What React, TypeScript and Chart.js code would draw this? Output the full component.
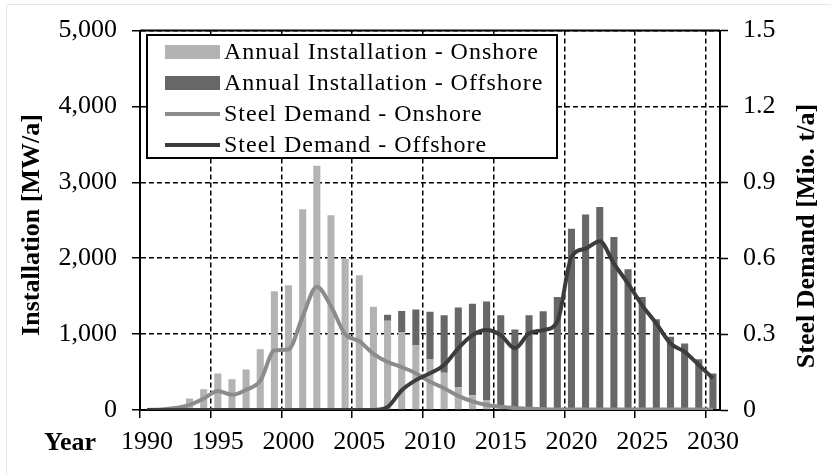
import React, { useEffect, useRef } from 'react';
import { Chart, registerables } from 'chart.js';

Chart.register(...registerables);

const years = [
  '1990', '1991', '1992', '1993', '1994', '1995', '1996', '1997', '1998', '1999',
  '2000', '2001', '2002', '2003', '2004', '2005', '2006', '2007', '2008', '2009',
  '2010', '2011', '2012', '2013', '2014', '2015', '2016', '2017', '2018', '2019',
  '2020', '2021', '2022', '2023', '2024', '2025', '2026', '2027', '2028', '2029', '2030',
];

// Annual installation [MW/a]
const onshoreInstall = [
  0, 10, 40, 150, 275, 480, 405, 535, 800, 1565,
  1645, 2645, 3220, 2565, 1990, 1775, 1360, 1175, 1020, 855,
  665, 490, 300, 195, 125, 45, 20, 10, 10, 10,
  10, 10, 10, 10, 10, 10, 10, 10, 10, 10, 10,
];
const offshoreInstall = [
  0, 0, 0, 0, 0, 0, 0, 0, 0, 0,
  0, 0, 0, 0, 0, 0, 0, 80, 285, 470,
  630, 760, 1050, 1205, 1305, 1205, 1040, 1240, 1290, 1480,
  2380, 2565, 2665, 2270, 1845, 1480, 1185, 955, 865, 660, 470,
];

// Steel demand [Mio. t/a]
const onshoreSteel = [
  0, 0.002, 0.008, 0.02, 0.045, 0.075, 0.06, 0.08, 0.115, 0.235,
  0.24, 0.37, 0.487, 0.41, 0.3, 0.272, 0.222, 0.19, 0.17, 0.145,
  0.112, 0.086, 0.056, 0.034, 0.02, 0.013, 0.008, 0.005, 0.003, 0.002,
  0.002, 0.002, 0.002, 0.002, 0.002, 0.002, 0.002, 0.002, 0.002, 0.002, 0.002,
];
const offshoreSteel = [
  0, 0, 0, 0, 0, 0, 0, 0, 0, 0,
  0, 0, 0, 0, 0, 0, 0, 0.012, 0.078, 0.118,
  0.145, 0.178, 0.244, 0.296, 0.316, 0.296, 0.244, 0.303, 0.316, 0.349,
  0.605, 0.638, 0.667, 0.579, 0.5, 0.414, 0.342, 0.263, 0.23, 0.178, 0.125,
];

const seriesNames = [
  'Annual Installation - Onshore',
  'Annual Installation - Offshore',
  'Steel Demand - Onshore',
  'Steel Demand - Offshore',
];

const COL_ON_BAR = '#b3b3b3';
const COL_OFF_BAR = '#676767';
const COL_ON_LINE = '#8c8c8c';
const COL_OFF_LINE = '#3c3c3c';
const SERIF = '"Liberation Serif", "Times New Roman", serif';

const decorPlugin = {
  id: 'decor',
  beforeDraw(chart: any) {
    const { ctx, width, height } = chart;
    ctx.save();
    ctx.fillStyle = '#fff';
    ctx.fillRect(0, 0, width, height);
    ctx.restore();
  },
  afterDraw(chart: any) {
    const { ctx, chartArea: a } = chart;
    ctx.save();
    ctx.setLineDash([]);
    // faint outer frame
    ctx.strokeStyle = '#e4e4e4';
    ctx.lineWidth = 1;
    ctx.beginPath();
    ctx.moveTo(6.5, 475);
    ctx.lineTo(6.5, 4.5);
    ctx.lineTo(831, 4.5);
    ctx.stroke();
    // plot top border
    ctx.strokeStyle = '#000';
    ctx.lineWidth = 2;
    ctx.beginPath();
    ctx.moveTo(a.left, a.top);
    ctx.lineTo(a.right, a.top);
    ctx.stroke();

    // axis titles
    ctx.fillStyle = '#000';
    ctx.font = `bold 26px ${SERIF}`;
    ctx.textAlign = 'center';
    ctx.textBaseline = 'middle';
    ctx.save();
    ctx.translate(32, 225);
    ctx.rotate(-Math.PI / 2);
    ctx.fillText('Installation [MW/a]', 0, 0);
    ctx.restore();
    ctx.save();
    ctx.translate(807, 236);
    ctx.rotate(-Math.PI / 2);
    ctx.fillText('Steel Demand [Mio. t/a]', 0, 0);
    ctx.restore();
    ctx.fillText('Year', 70, 443);

    // legend
    const lx = 147, ly = 35, lw = 410, lh = 123;
    ctx.fillStyle = '#fff';
    ctx.fillRect(lx, ly, lw, lh);
    ctx.strokeStyle = '#000';
    ctx.lineWidth = 2;
    ctx.strokeRect(lx, ly, lw, lh);
    const rows = [52, 83, 114, 145];
    const ds = chart.data.datasets;
    ctx.font = `24px ${SERIF}`;
    ctx.textAlign = 'left';
    ctx.textBaseline = 'middle';
    try { (ctx as any).letterSpacing = '1px'; } catch (e) { /* ignore */ }
    rows.forEach((cy, i) => {
      const d = ds[i];
      if (i < 2) {
        ctx.fillStyle = d.backgroundColor;
        ctx.fillRect(165, cy - 7, 55, 14);
      } else {
        ctx.strokeStyle = d.borderColor;
        ctx.lineWidth = 4;
        ctx.beginPath();
        ctx.moveTo(165, cy);
        ctx.lineTo(220, cy);
        ctx.stroke();
      }
      ctx.fillStyle = '#000';
      ctx.fillText(d.label, 224, cy + 1);
    });
    ctx.restore();
  },
};

export default function App() {
  const canvasRef = useRef<HTMLCanvasElement | null>(null);

  useEffect(() => {
    document.body.style.margin = '0';
    const canvas = canvasRef.current;
    if (!canvas) return;
    const tickFont = { family: SERIF, size: 26 };
    const dash = [5, 3];
    const chart = new Chart(canvas, {
      type: 'bar',
      data: {
        labels: years,
        datasets: [
          {
            type: 'bar',
            label: seriesNames[0],
            data: onshoreInstall,
            backgroundColor: COL_ON_BAR,
            yAxisID: 'y',
            stack: 'inst',
            order: 2,
            barPercentage: 1,
            categoryPercentage: 0.5,
          },
          {
            type: 'bar',
            label: seriesNames[1],
            data: offshoreInstall,
            backgroundColor: COL_OFF_BAR,
            yAxisID: 'y',
            stack: 'inst',
            order: 3,
            barPercentage: 1,
            categoryPercentage: 0.5,
          },
          {
            type: 'line',
            label: seriesNames[2],
            data: onshoreSteel,
            borderColor: COL_ON_LINE,
            backgroundColor: COL_ON_LINE,
            borderWidth: 4,
            pointRadius: 0,
            cubicInterpolationMode: 'monotone',
            yAxisID: 'y1',
            order: 1,
          },
          {
            type: 'line',
            label: seriesNames[3],
            data: offshoreSteel,
            borderColor: COL_OFF_LINE,
            backgroundColor: COL_OFF_LINE,
            borderWidth: 4,
            pointRadius: 0,
            cubicInterpolationMode: 'monotone',
            yAxisID: 'y1',
            order: 0,
          },
        ] as any,
      },
      options: {
        responsive: false,
        animation: false,
        events: [],
        layout: { padding: { top: 30, left: 0, right: 0, bottom: 0 } },
        plugins: {
          legend: { display: false },
          tooltip: { enabled: false },
        },
        scales: {
          x: {
            type: 'category',
            stacked: true,
            offset: true,
            afterFit: (s: any) => { s.height = 65; },
            grid: {
              offset: true,
              drawOnChartArea: true,
              drawTicks: true,
              tickLength: 8,
              lineWidth: 1.5,
              tickWidth: 1.5,
              tickBorderDash: [],
              color: (c: any) => (typeof c.index === 'number' && c.index > 0 && c.index % 5 === 0 ? '#000' : 'rgba(0,0,0,0)'),
              tickColor: (c: any) => (typeof c.index === 'number' && c.index % 5 === 0 ? '#000' : 'rgba(0,0,0,0)'),
            },
            border: { display: true, color: '#000', width: 2, dash },
            ticks: {
              autoSkip: false,
              maxRotation: 0,
              minRotation: 0,
              padding: 9,
              color: '#000',
              font: tickFont,
              callback: (_v: any, i: number) => (i % 5 === 0 ? years[i] : ''),
            },
          },
          y: {
            type: 'linear',
            position: 'left',
            stacked: true,
            min: 0,
            max: 5000,
            afterFit: (s: any) => { s.width = 140; },
            grid: {
              drawOnChartArea: true,
              drawTicks: true,
              tickLength: 8,
              color: '#000',
              tickColor: '#000',
              lineWidth: 1.5,
              tickWidth: 1.5,
              tickBorderDash: [],
            },
            border: { display: true, color: '#000', width: 2, dash },
            ticks: {
              stepSize: 1000,
              padding: 15,
              color: '#000',
              font: tickFont,
              callback: (v: any) => Number(v).toLocaleString('en-US'),
            },
          },
          y1: {
            type: 'linear',
            position: 'right',
            min: 0,
            max: 1.5,
            afterFit: (s: any) => { s.width = 111; },
            grid: {
              drawOnChartArea: false,
              drawTicks: true,
              tickLength: 8,
              tickColor: '#000',
              tickWidth: 1.5,
              tickBorderDash: [],
            },
            border: { display: true, color: '#000', width: 2 },
            ticks: {
              stepSize: 0.3,
              padding: 15,
              color: '#000',
              font: tickFont,
              callback: (v: any) => String(Number(Number(v).toFixed(1))),
            },
          },
        },
      } as any,
      plugins: [decorPlugin],
    });
    return () => chart.destroy();
  }, []);

  return (
    <div style={{ width: 831, height: 475, position: 'relative' }}>
      <canvas ref={canvasRef} width={831} height={475} style={{ display: 'block', width: 831, height: 475 }} />
    </div>
  );
}
